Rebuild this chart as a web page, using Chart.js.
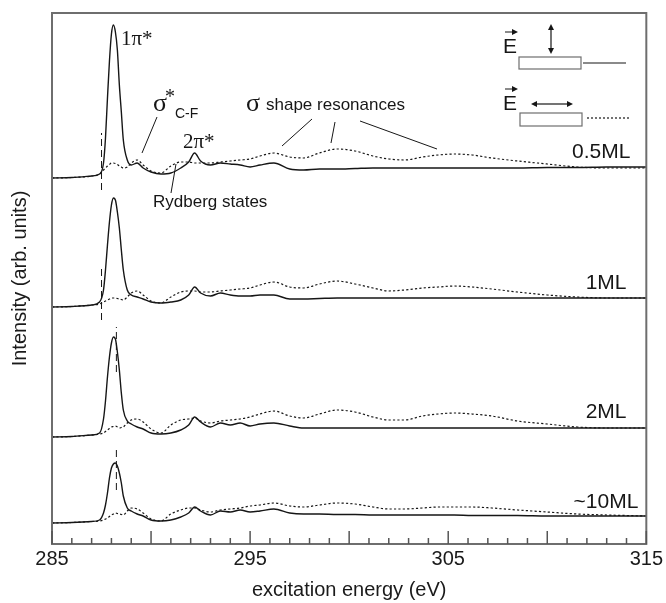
<!DOCTYPE html>
<html lang="en">
<head>
  <meta charset="UTF-8" />
  <title>NEXAFS spectra vs coverage</title>
  <script src="https://cdn.jsdelivr.net/npm/chart.js"></script>
  <style>
    html, body {
      margin: 0;
      padding: 0;
      background-color: #ffffff;
    }
    #chart-container {
      position: relative;
      width: 666px;
      height: 603px;
    }
  </style>
</head>
<body>
  <div id="chart-container">
    <canvas id="nexafsChart"></canvas>
  </div>

  <script>
    // photon energy grid (eV)
    const energy = [285, 286, 287, 287.4, 287.6, 287.7, 287.8, 287.9, 288.0, 288.1, 288.2, 288.3, 288.4, 288.5, 288.6, 288.8,
      289.0, 289.3, 289.6, 290.0, 290.5, 291.0, 291.5, 291.9, 292.2, 292.5, 293.0, 293.5, 294.0, 294.5, 295.0, 295.5,
      296.2, 297.0, 297.7, 298.5, 299.4, 300.3, 301.2, 302.0, 302.8, 303.7, 304.5, 305.3, 306.2, 307.2, 308.5, 310.0,
      311.5, 313.0, 315.0];

    // intensities above the pre-edge level, normal (solid) and grazing (dotted) E vector
    const solid05 = [0, 0.5, 2, 4, 15, 40, 80, 117, 144, 153, 146, 128, 93, 66, 38, 18, 13, 15, 10, 6, 4, 5, 10, 16, 25, 17,
      13, 15, 14, 13, 11, 13, 15, 9, 8, 9, 9, 9.5, 10, 10, 10, 10, 10, 10, 10, 10, 10, 10.5, 10.5, 11, 11];
    const dot05 = [0, 0.5, 2, 4, 8, 10, 12, 13.5, 15, 15, 14.5, 13.5, 12, 11, 10, 11, 15, 18, 13, 7, 5, 12, 16, 16, 15, 15,
      15, 16, 17, 18, 19, 22, 25, 21, 20, 25, 29, 27, 22, 19, 18, 21, 23, 24, 23, 20, 17, 14, 11, 10, 10];
    const solid1 = [0, 0.5, 2, 5, 17, 37, 62, 85, 102, 109, 107, 95, 79, 57, 37, 17, 12, 10, 8, 5, 4, 5, 7, 12, 20, 14,
      11, 14, 12, 11, 11, 12, 12, 8, 8, 8.5, 9, 9, 9, 9, 9, 9, 9, 9, 9, 9, 9, 9, 9, 9, 9];
    const dot1 = [0, 0.5, 2, 3, 5, 6, 7, 8, 9, 9, 9, 8.5, 8, 7.5, 7, 10, 14, 16, 12, 6, 4, 10, 15, 16, 16, 15,
      15, 16, 17, 18, 19, 22, 25, 20, 19, 23, 26, 23, 19, 16, 17, 19, 20, 21, 20, 18, 15, 12, 10, 9, 9];
    const solid2 = [0, 0.5, 2, 4, 18, 36, 60, 80, 94, 100, 98, 85, 67, 44, 27, 16, 13, 10, 8, 4, 3, 4, 7, 12, 20, 15,
      10, 14, 12, 14, 11, 13, 14, 11, 9, 9, 9, 9, 9, 9, 9, 9, 9, 9, 9, 9, 9, 9, 9, 9, 9];
    const dot2 = [0, 0.5, 2, 3, 4, 5.5, 7, 8.5, 10, 10.5, 11, 10, 9, 9.5, 10, 14, 17, 18, 15, 8, 4, 12, 17, 18, 19, 16,
      14, 16, 17, 18, 20, 23, 26, 21, 19, 23, 27, 25, 20, 17, 17, 21, 23, 24, 23, 21, 16, 13, 10, 9, 9];
    const solid10 = [0, 0.5, 1.5, 3, 10, 18, 30, 45, 55, 59, 60, 57, 50, 40, 27, 15, 12, 9, 7, 3, 2, 3, 6, 10, 16, 12,
      8, 12, 11, 13, 11, 12, 14, 10, 9, 9, 8.5, 8.5, 8, 8, 8, 8, 8, 8, 7.5, 7.5, 7.5, 7, 7, 7, 7];
    const dot10 = [0, 0.5, 1.5, 2, 3, 4, 5, 6.5, 8, 9, 10, 9.5, 9, 8.5, 8, 12, 15, 14, 10, 4, 2, 9, 13, 15, 15, 13,
      11, 13, 14, 15, 17, 18, 20, 17, 16, 18, 20, 19, 16, 14, 14, 15, 16, 16, 16, 15, 13, 11, 9, 8, 7];

    const coverage = ['0.5ML', '1ML', '2ML', '~10ML'];
    const stackOffset = [366, 237, 107, 21];
    const solidSeries = [solid05, solid1, solid2, solid10];
    const dotSeries = [dot05, dot1, dot2, dot10];

    // dashed edge markers per spectrum: energy and span relative to pre-edge
    const edgeE = [287.5, 287.5, 288.25, 288.25];
    const edgeLow = [-12, -13, 65, 33];
    const edgeHigh = [45, 42, 110, 76];

    const xMajorLabels = [285, 295, 305, 315];

    const ink = '#161616';
    const datasets = [];
    coverage.forEach((name, i) => {
      datasets.push({
        label: name + ' normal',
        data: energy.map((e, k) => ({ x: e, y: stackOffset[i] + solidSeries[i][k] })),
        borderColor: ink, borderWidth: 1.4, pointRadius: 0, cubicInterpolationMode: 'monotone'
      });
      datasets.push({
        label: name + ' grazing',
        data: energy.map((e, k) => ({ x: e, y: stackOffset[i] + dotSeries[i][k] })),
        borderColor: ink, borderWidth: 1.2, borderDash: [2.2, 2.2], pointRadius: 0, cubicInterpolationMode: 'monotone'
      });
      datasets.push({
        label: name + ' edge',
        data: [{ x: edgeE[i], y: stackOffset[i] + edgeLow[i] }, { x: edgeE[i], y: stackOffset[i] + edgeHigh[i] }],
        borderColor: ink, borderWidth: 1, borderDash: [7, 4], pointRadius: 0
      });
    });

    function arrowHead(ctx, x, y, dx, dy) {
      const len = 6, half = 3;
      ctx.beginPath();
      ctx.moveTo(x, y);
      ctx.lineTo(x - dx * len - dy * half, y - dy * len + dx * half);
      ctx.lineTo(x - dx * len + dy * half, y - dy * len - dx * half);
      ctx.closePath();
      ctx.fill();
    }

    function line(ctx, x1, y1, x2, y2) {
      ctx.beginPath();
      ctx.moveTo(x1, y1);
      ctx.lineTo(x2, y2);
      ctx.stroke();
    }

    // frame, inward ticks, annotations and polarisation key
    const decor = {
      id: 'decor',
      afterDraw(chart) {
        const { ctx, chartArea: a, scales: { x, y } } = chart;
        ctx.save();
        ctx.strokeStyle = '#6e6e6e';
        ctx.lineWidth = 2;
        ctx.strokeRect(a.left, a.top, a.right - a.left, a.bottom - a.top);

        ctx.strokeStyle = '#555';
        ctx.lineWidth = 1.5;
        for (let e = 285; e <= 315; e++) {
          const px = x.getPixelForValue(e);
          const len = e % 5 === 0 ? 13 : 6;
          line(ctx, px, a.bottom, px, a.bottom - len);
        }

        ctx.fillStyle = ink;
        ctx.textBaseline = 'middle';
        ctx.textAlign = 'right';
        ctx.font = '21px "Liberation Sans", Arial, sans-serif';
        const labelE = [314.2, 314.0, 314.0, 314.6];
        const labelRise = [26, 24, 25, 21];
        coverage.forEach((name, i) => {
          ctx.fillText(name, x.getPixelForValue(labelE[i]), y.getPixelForValue(stackOffset[i] + labelRise[i]));
        });

        ctx.textAlign = 'left';
        ctx.textBaseline = 'alphabetic';
        ctx.font = '21px "Liberation Serif", "DejaVu Serif", serif';
        ctx.fillText('1π*', 121, 45);
        ctx.fillText('2π*', 183, 148);
        ctx.font = '26px "Liberation Serif", serif';
        ctx.fillText('σ', 153, 111);
        ctx.fillText('σ', 246, 111);
        ctx.font = '20px "Liberation Serif", serif';
        ctx.fillText('*', 165, 103);
        ctx.font = '14px "Liberation Sans", Arial, sans-serif';
        ctx.fillText('C-F', 175, 118);
        ctx.font = '17px "Liberation Sans", Arial, sans-serif';
        ctx.fillText('shape resonances', 266, 110);
        ctx.fillText('Rydberg states', 153, 207);

        ctx.strokeStyle = ink;
        ctx.lineWidth = 1;
        line(ctx, 157, 117, 142, 153);
        line(ctx, 176, 164, 171, 193);
        line(ctx, 312, 119, 282, 146);
        line(ctx, 335, 122, 331, 143);
        line(ctx, 360, 121, 437, 149);

        // polarisation key
        ctx.font = '21px "Liberation Sans", Arial, sans-serif';
        ctx.fillText('E', 503, 53);
        ctx.fillText('E', 503, 110);
        ctx.lineWidth = 1;
        line(ctx, 505, 32, 515, 32);
        arrowHead(ctx, 518, 32, 1, 0);
        line(ctx, 505, 89, 515, 89);
        arrowHead(ctx, 518, 89, 1, 0);

        ctx.lineWidth = 1.2;
        line(ctx, 551, 29, 551, 49);
        arrowHead(ctx, 551, 24, 0, -1);
        arrowHead(ctx, 551, 54, 0, 1);
        line(ctx, 537, 104, 567, 104);
        arrowHead(ctx, 531, 104, -1, 0);
        arrowHead(ctx, 573, 104, 1, 0);

        ctx.strokeStyle = '#6e6e6e';
        ctx.lineWidth = 1.2;
        ctx.strokeRect(519, 57, 62, 12);
        ctx.strokeRect(520, 113, 62, 13);
        ctx.strokeStyle = ink;
        ctx.lineWidth = 1.2;
        line(ctx, 583, 63, 626, 63);
        ctx.setLineDash([2, 2]);
        line(ctx, 587, 118, 630, 118);
        ctx.restore();
      }
    };

    new Chart(document.getElementById('nexafsChart').getContext('2d'), {
      type: 'line',
      data: { datasets: datasets },
      options: {
        responsive: true,
        maintainAspectRatio: false,
        animation: false,
        events: [],
        layout: { padding: { top: 13, right: 18, left: 0, bottom: 0 } },
        plugins: { legend: { display: false }, tooltip: { enabled: false } },
        scales: {
          x: {
            type: 'linear',
            min: 285,
            max: 315,
            afterFit: (scale) => { scale.height = 59; },
            border: { display: false },
            grid: { display: false, drawTicks: false },
            ticks: {
              stepSize: 1,
              autoSkip: false,
              maxRotation: 0,
              padding: 3,
              color: '#1a1a1a',
              font: { family: '"Liberation Sans", Arial, sans-serif', size: 20 },
              callback: (v) => xMajorLabels.includes(v) ? String(v) : ''
            },
            title: {
              display: true,
              text: 'excitation energy (eV)',
              color: '#1a1a1a',
              font: { family: '"Liberation Sans", Arial, sans-serif', size: 20 },
              padding: { top: 0, bottom: 1 }
            }
          },
          y: {
            min: 0,
            max: 531,
            afterFit: (scale) => { scale.width = 52; },
            border: { display: false },
            grid: { display: false, drawTicks: false },
            ticks: { display: false },
            title: {
              display: true,
              text: 'Intensity (arb. units)',
              color: '#1a1a1a',
              font: { family: '"Liberation Sans", Arial, sans-serif', size: 20 },
              padding: { top: 8, bottom: 0 }
            }
          }
        }
      },
      plugins: [decor]
    });
  </script>
</body>
</html>
